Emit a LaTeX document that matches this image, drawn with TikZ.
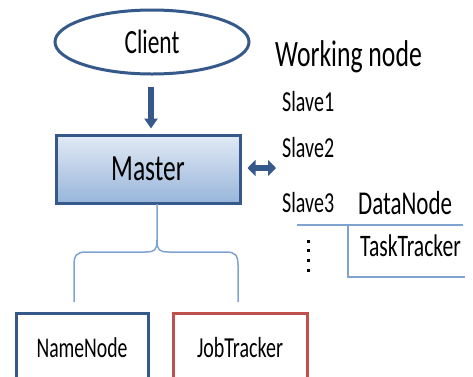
\documentclass[tikz,border=0pt]{standalone}
\usepackage{fontspec}
\usepackage{graphicx}
\setmainfont{Carlito}
\usetikzlibrary{arrows.meta,shapes.geometric,shadings}
\definecolor{navy}{HTML}{35598A}
\definecolor{lineblue}{HTML}{7FA3D1}
\definecolor{boxred}{HTML}{C0504D}
\definecolor{fillTop}{HTML}{E2EAF5}
\definecolor{fillBot}{HTML}{98B5DA}
% the lettering is drawn a little taller than wide
\newcommand\tallt[1]{\scalebox{1}[1.45]{#1}}
\newcommand\fs[1]{\fontsize{#1}{#1}\selectfont}
\tikzset{
  lbl/.style={inner sep=0pt, anchor=base west},
  outlinebox/.style={rectangle, line width=3pt, fill=white, inner sep=0pt},
  thinrule/.style={lineblue, line width=1.5pt},
  bigarrow/.style={navy, line width=6pt},
}
\begin{document}
\begin{tikzpicture}[x=1pt,y=-1pt]
\useasboundingbox (0,0) rectangle (473,376);
\clip (0,0) rectangle (473,376);

% client and master
\node[ellipse, draw=navy, line width=3pt, fill=white, inner sep=0pt,
      minimum width=194pt, minimum height=64pt] (client) at (152,42)
      {\fs{23.4}\tallt{Client}};
\node[rectangle, draw=navy, line width=3pt, top color=fillTop, bottom color=fillBot,
      inner sep=0pt, minimum width=184pt, minimum height=68pt] (master) at (148,169)
      {\fs{25.5}\tallt{Master}};
\draw[bigarrow, -{Triangle[length=10pt,width=13pt]}, shorten <=11pt, shorten >=5pt]
  (client.south -| 151,0) -- (master.north -| 151,0);

% working nodes
\node[lbl] (work) at (275,66) {\fs{25.7}\tallt{Working node}};
\node[lbl] (s1) at (282,111) {\fs{20}\tallt{Slave1}};
\node[lbl] (s2) at (282,157) {\fs{20}\tallt{Slave2}};
\node[lbl] (s3) at (282,212) {\fs{20}\tallt{Slave3}};
\node[lbl] (dn) at (358,214) {\fs{23}\tallt{DataNode}};
\node[lbl] (tt) at (360,256) {\fs{21.6}\tallt{TaskTracker}};

\coordinate (link) at (276,168);
\draw[bigarrow, {Triangle[length=8pt,width=16pt]}-{Triangle[length=8pt,width=16pt]},
      shorten <=6pt] (master.east |- link) -- (link);

% DataNode / TaskTracker rules
\coordinate (ra) at (297,225);
\coordinate (rb) at (463,225);
\coordinate (rc) at (348,225);
\coordinate (rd) at (348,277);
\coordinate (re) at (465,277);
\draw[thinrule] (ra) -- (rb);
\draw[thinrule] (rc) -- (rd) -- (re);

% more slaves
\coordinate (da) at (308,238);
\coordinate (db) at (308,277);
\draw[line width=3pt, dash pattern=on 3pt off 6.75pt] ([yshift=-1.5pt]da) -- ([yshift=1.5pt]db);

% master components
\node[outlinebox, draw=navy, minimum width=132pt, minimum height=70pt] (nn) at (82,348)
  {\fs{19.7}\tallt{NameNode}};
\node[outlinebox, draw=boxred, minimum width=134pt, minimum height=70pt] (jt) at (240,348)
  {\fs{20}\tallt{JobTracker}};

\coordinate (stem) at (157,204);
\coordinate (fork) at (157,240);
\coordinate (leftend) at (74,302);
\coordinate (rightend) at (238,302);
\draw[thinrule] (stem) -- (fork)
  .. controls (157,250) and (155,252) .. (145,252) -- (86,252)
  .. controls (77,252) and (74,255) .. (74,265) -- (leftend);
\draw[thinrule] (fork)
  .. controls (157,250) and (159,252) .. (169,252) -- (226,252)
  .. controls (235,252) and (238,255) .. (238,265) -- (rightend);
\end{tikzpicture}
\end{document}
